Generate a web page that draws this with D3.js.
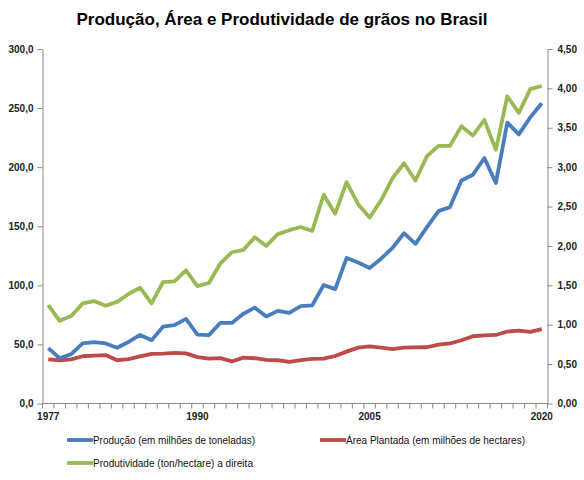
<!DOCTYPE html>
<html><head><meta charset="utf-8">
<script src="https://cdn.jsdelivr.net/npm/d3@7"></script>
<style>body{margin:0;background:#fff}svg{display:block}text{font-family:"Liberation Sans",Arial,sans-serif}</style>
</head><body><div id="chart"></div>
<script>
const years = d3.range(1977, 2021);
const xLabels = ["1977", "1990", "2005", "2020"];
const producao = [46.9,38.3,41.8,50.9,52.0,50.8,47.2,52.1,58.0,53.6,65.0,66.3,71.6,58.3,57.9,68.3,68.2,76.0,81.1,73.6,78.4,76.6,82.4,83.0,100.3,96.8,123.2,119.3,114.7,122.5,131.8,144.1,135.1,149.3,162.8,166.2,188.7,193.6,207.8,186.6,237.7,227.7,242.1,254.1];
const area = [37.3,36.6,37.4,40.0,40.5,41.0,36.6,37.5,39.8,42.0,42.2,42.8,42.4,39.2,37.9,38.4,35.6,38.8,38.3,36.9,36.6,35.2,36.8,37.8,37.9,40.2,43.9,47.3,48.4,47.3,46.1,47.2,47.5,47.6,49.8,50.8,53.5,56.9,57.6,58.0,60.9,61.7,60.6,63.0];
const produtividade = [1.25,1.05,1.11,1.27,1.30,1.24,1.29,1.39,1.47,1.27,1.54,1.55,1.69,1.49,1.53,1.78,1.92,1.95,2.11,2.00,2.15,2.20,2.24,2.19,2.65,2.41,2.81,2.53,2.36,2.58,2.86,3.05,2.83,3.14,3.27,3.27,3.52,3.40,3.60,3.22,3.90,3.69,3.99,4.03];
const leftTicks = [0,50,100,150,200,250,300];
const rightTicks = [0,0.5,1,1.5,2,2.5,3,3.5,4,4.5];
const seriesNames = ["Produção (em milhões de toneladas)","Área Plantada (em milhões de hectares)","Produtividade (ton/hectare) a direita"];
const colors = ["#4a7ebb","#be4b48","#98b954"];

const W=584,H=480;
const svg=d3.select("#chart").append("svg").attr("width",W).attr("height",H);
const L=42.5,R=547.5,T=49,B=403.5;
const x=d3.scaleBand().domain(years).range([L,R]);
const yL=d3.scaleLinear().domain([0,300]).range([B,T]);
const yR=d3.scaleLinear().domain([0,4.5]).range([B,T]);
const fmt1=d=>d3.format(".1f")(d).replace(".",",");
const fmt2=d=>d3.format(".2f")(d).replace(".",",");

svg.append("text").attr("x",282).attr("y",25).attr("text-anchor","middle")
  .attr("font-size",17).attr("font-weight","bold").attr("fill","#000")
  .text("Produção, Área e Produtividade de grãos no Brasil");

const axStyle=g=>{g.select(".domain").attr("stroke","#898989");g.selectAll(".tick line").attr("stroke","#898989");
  g.selectAll("text").attr("font-size",10).attr("font-weight","bold").attr("fill","#222").attr("font-family","Liberation Sans, Arial, sans-serif");};

svg.append("g").attr("transform",`translate(${L},0)`)
  .call(d3.axisLeft(yL).tickValues(leftTicks).tickFormat(fmt1).tickSize(5).tickSizeOuter(0).tickPadding(4)).call(axStyle);
svg.append("g").attr("transform",`translate(${R},0)`)
  .call(d3.axisRight(yR).tickValues(rightTicks).tickFormat(fmt2).tickSize(5).tickSizeOuter(0).tickPadding(5)).call(axStyle);

// x axis with category-boundary ticks
const gx=svg.append("g");
gx.append("line").attr("x1",L).attr("x2",R).attr("y1",B).attr("y2",B).attr("stroke","#898989");
const bounds=years.map(y=>x(y)).concat([R]);
gx.selectAll("line.t").data(bounds).join("line").attr("class","t")
  .attr("x1",d=>d).attr("x2",d=>d).attr("y1",B).attr("y2",B+5).attr("stroke","#898989");
gx.selectAll("text").data(xLabels).join("text")
  .attr("x",d=>x(+d)+x.bandwidth()/2).attr("y",B+16).attr("text-anchor","middle")
  .attr("font-size",10).attr("font-weight","bold").attr("fill","#222").text(d=>d);

const cx=d=>x(d)+x.bandwidth()/2;
const lineL=d3.line().x((d,i)=>cx(years[i])).y(d=>yL(d));
const lineR=d3.line().x((d,i)=>cx(years[i])).y(d=>yR(d));
[[area,lineL,1],[producao,lineL,0],[produtividade,lineR,2]].forEach(([data,ln,ci])=>{
  svg.append("path").datum(data).attr("d",ln).attr("fill","none").attr("stroke",colors[ci])
    .attr("stroke-width",3.8).attr("stroke-linejoin","round");
});

const leg=[[67,440,0,162],[320,440,1,179],[67,463,2,160]];
leg.forEach(([lx,ly,i,tw])=>{
  svg.append("line").attr("x1",lx).attr("x2",lx+26).attr("y1",ly).attr("y2",ly).attr("stroke",colors[i]).attr("stroke-width",3.8);
  svg.append("text").attr("x",lx+26).attr("y",ly+4).attr("font-size",11).attr("fill","#111")
    .attr("textLength",tw).attr("lengthAdjust","spacingAndGlyphs").text(seriesNames[i]);
});
</script></body></html>
